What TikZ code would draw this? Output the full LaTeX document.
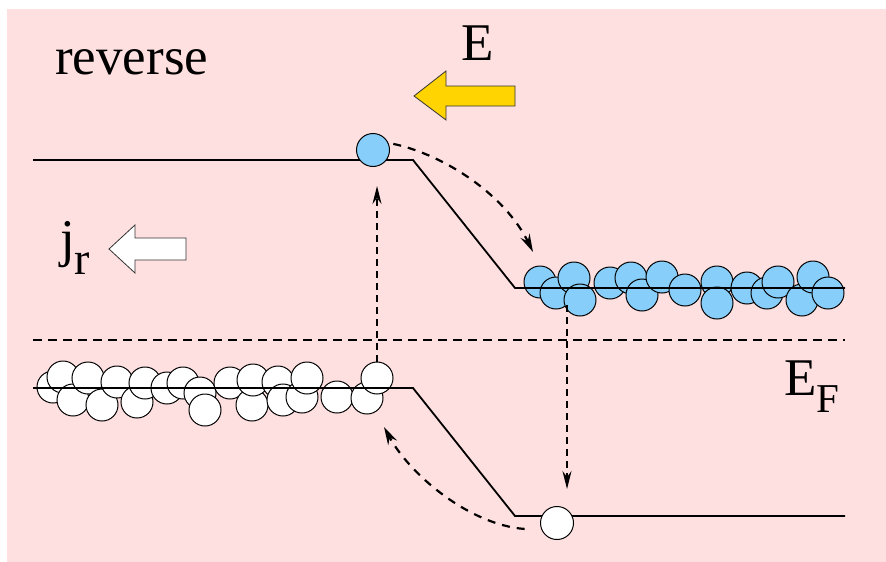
\documentclass[tikz,border=0pt]{standalone}
\usepackage{fontspec}
\setmainfont{Liberation Serif}
\usetikzlibrary{arrows.meta}
\definecolor{bgpink}{RGB}{255,224,224}
\definecolor{eblue}{RGB}{135,206,250}
\definecolor{fieldyellow}{RGB}{255,212,0}
\tikzset{
    band/.style={line width=1.8pt}, % conduction and valence band edges
    fermi/.style={line width=1.4pt, dash pattern=on 9pt off 6pt},
    electron/.style={ % filled states
        circle, draw, fill=eblue, line width=1pt,
        minimum size=32pt, inner sep=0pt
    },
    hole/.style={electron, fill=white},
    hop/.style={ % generation / recombination
        line width=1.1pt, dash pattern=on 7pt off 5pt,
        -{Stealth[length=18pt,width=9pt,inset=6pt]}
    },
    drift/.style={ % carriers swept by the field
        line width=2.2pt, dash pattern=on 8pt off 7pt,
        -{Stealth[length=18pt,width=10pt,inset=6pt]}
    },
    blockarrow/.style={draw=black!80, line width=0.8pt},
    label/.style={inner sep=0pt, font=\fontsize{53}{60}\selectfont}
}

\begin{document}
\begin{tikzpicture}[x=1pt, y=-1pt]
    \useasboundingbox (0,0) rectangle (886,562);
    \fill[white] (0,0) rectangle (886,562);
    \fill[bgpink] (7,9) rectangle (886,562);

    % electrons piled up in the n side conduction band
    \foreach \x/\y [count=\i] in {540/282, 556/293, 574/278, 580/300, 610/283,
            631/278, 642/295, 662/277, 685/290, 717/282, 717/303, 747/288,
            767/293, 778/282, 802/300, 813/277, 828/293}
        \node[electron] (e\i) at (\x,\y) {};

    % holes in the p side valence band
    \foreach \x/\y [count=\i] in {53/387, 63/377, 73/400, 88/378, 102/405,
            117/382, 137/402, 145/383, 167/388, 183/383, 200/393, 205/410,
            230/383, 252/405, 253/380, 278/382, 283/400, 302/397, 307/378,
            337/397, 367/398, 377/378}
        \node[hole] (h\i) at (\x,\y) {};

    % bands
    \draw[band] (33,160) -- (413,160) -- (515,288) -- (845,288);
    \draw[band] (33,388) -- (413,388) -- (515,516) -- (845,516);
    \draw[fermi] (33,340) -- (845,340);

    % single carriers at the junction
    \node[electron, minimum size=33pt] (e0) at (373,150) {};
    \node[hole, minimum size=33pt] (h0) at (557,523) {};

    \coordinate (drop) at (567,305);
    \coordinate (land) at (533,252);
    \coordinate (back) at (384,427);

    \draw[hop, shorten >=19pt] (h22.north) -- (h22.north |- e0.south);
    \draw[hop, shorten >=17pt] (drop) -- (drop |- h0.north);
    \draw[drift, shorten <=5pt] (e0.25) .. controls (445,155) and (505,195) .. (land);
    \draw[drift, shorten <=17pt] (h0.205) .. controls (470,525) and (410,475) .. (back);

    % field and current direction
    \draw[blockarrow, fill=fieldyellow] (414,96) -- (446,71) -- (446,86) -- (515,86)
        -- (515,106) -- (446,106) -- (446,120) -- cycle;
    \draw[blockarrow, fill=white] (109,249) -- (135,225) -- (135,238) -- (186,238)
        -- (186,260) -- (135,260) -- (135,273) -- cycle;

    % labels
    \node[label, anchor=base west] (mode) at (55,74) {reverse};
    \node[label, anchor=base west] (field) at (461,60) {E};
    \node[label, anchor=base west] (fermilvl) at (784,395)
        {E\raisebox{-17pt}{\fontsize{41}{41}\selectfont F}};
    \node[label, anchor=base west] (current) at (60,256)
        {j\raisebox{-18pt}{\fontsize{46}{46}\selectfont r}};
\end{tikzpicture}
\end{document}
